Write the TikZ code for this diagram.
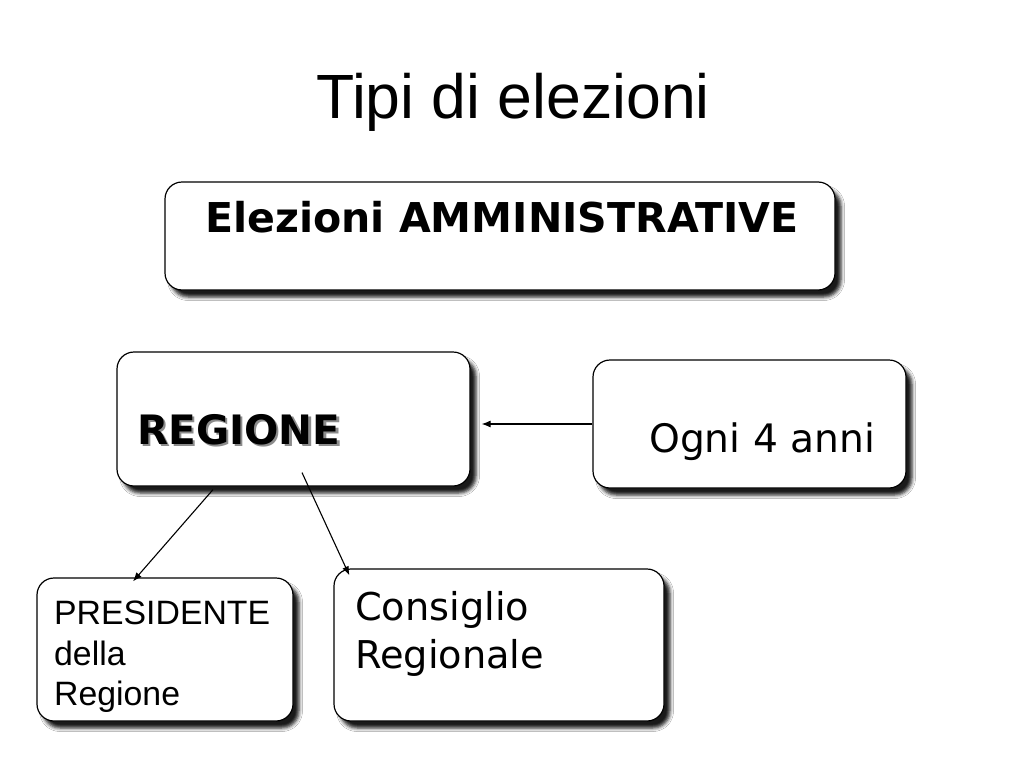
\documentclass[tikz,border=0pt]{standalone}
\usepackage{fontspec}
\usetikzlibrary{shadows.blur,arrows.meta}
\newfontfamily\dvfont{DejaVu Sans}
\newfontfamily\libfont{Liberation Sans}
\tikzset{
  box/.style={draw=black, line width=1.2pt, fill=white, rounded corners=17pt,
    inner sep=0pt,
    blur shadow={shadow xshift=6pt, shadow yshift=-7pt, shadow blur radius=3.5pt, shadow opacity=90}},
  txt/.style={anchor=base west, inner sep=0pt},
  arr/.style={draw=black, line width=1.1pt, -{Latex[length=9pt,width=7pt]}}
}
\begin{document}
\begin{tikzpicture}[x=1pt,y=-1pt]
\useasboundingbox[fill=white] (0,0) rectangle (1024,768);
% title
\node[anchor=base, inner sep=0pt] (title) at (513,118) {\libfont\fontsize{62.5}{70}\selectfont Tipi di elezioni};
% boxes
\node[box, minimum width=670pt, minimum height=108pt] (top) at (500,236) {};
\node[box, minimum width=353pt, minimum height=134pt] (regione) at (293.5,419) {};
\node[box, minimum width=313pt, minimum height=128pt] (ogni) at (749.5,424) {};
\node[box, minimum width=256pt, minimum height=143pt] (pres) at (165,649.5) {};
\node[box, minimum width=330pt, minimum height=152pt] (cons) at (499,645) {};
% texts
\node[txt] (t1) at (205,232) {\dvfont\bfseries\fontsize{41.1}{48}\selectfont Elezioni AMMINISTRATIVE};
\node[txt] (t2) at (137,444) {\dvfont\bfseries\fontsize{40.5}{48}\selectfont\makebox[0pt][l]{\hspace{2.5pt}\raisebox{-2.5pt}{\color{black!45}REGIONE}}REGIONE};
\node[txt] (t3) at (649,452) {\dvfont\fontsize{39.2}{48}\selectfont Ogni 4 anni};
\node[txt] (t4a) at (54,624) {\libfont\fontsize{33.8}{40}\selectfont PRESIDENTE};
\node[txt] (t4b) at (54,665) {\libfont\fontsize{33.8}{40}\selectfont della};
\node[txt] (t4c) at (54,705) {\libfont\fontsize{33.8}{40}\selectfont Regione};
\node[txt] (t5a) at (355,620) {\dvfont\fontsize{38.3}{48}\selectfont Consiglio};
\node[txt] (t5b) at (355,668) {\dvfont\fontsize{38.3}{48}\selectfont Regionale};
% connectors
\coordinate (regin) at ([xshift=11pt]regione.east |- ogni.west);
\draw[arr] (ogni.west) -- (regin);
\draw[arr] ([xshift=-80.5pt,yshift=-3pt]regione.south) -- ([xshift=-32pt,yshift=-4pt]pres.north);
\draw[arr] ([xshift=8.5pt,yshift=14pt]regione.south) -- ([xshift=16pt,yshift=-7pt]cons.north west);
\end{tikzpicture}
\end{document}
